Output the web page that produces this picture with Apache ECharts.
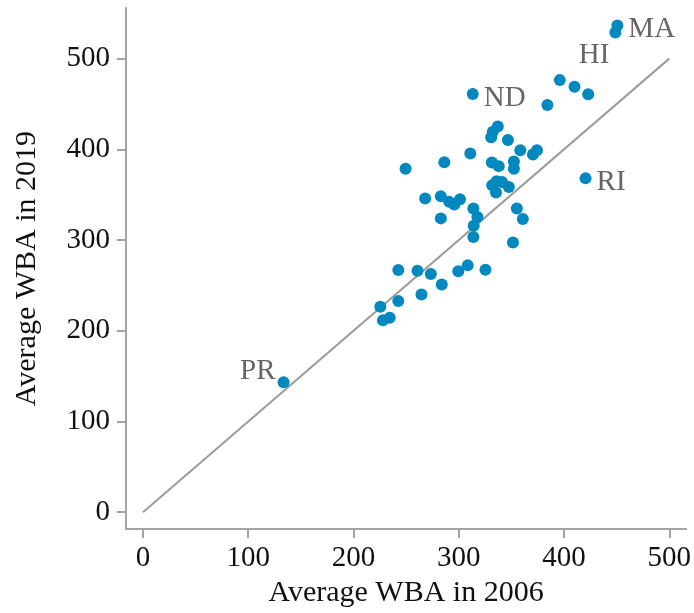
<!DOCTYPE html>
<html>
<head>
<meta charset="utf-8">
<title>Average WBA 2006 vs 2019</title>
<script src="https://cdn.jsdelivr.net/npm/echarts@6/dist/echarts.min.js"></script>
<style>
  html, body { margin: 0; padding: 0; background: #fff; }
  #chart { width: 694px; height: 613px; }
</style>
</head>
<body>
<div id="chart"></div>
<script>
// average weekly benefit amount by state, 2006 vs 2019
const wba2006 = [
  450.7, 448.8, 396, 410, 423, 384.2, 313.3, 337.1, 332.4, 330.8,
  346.7, 358.5, 370.5, 374.3, 311, 286.3, 249.5, 331.5, 338, 352.4,
  352.4, 420.5, 331.8, 336, 341.1, 347.6, 335.4, 268.1, 283, 291,
  295.8, 301.2, 313.9, 317.7, 314.2, 313.9, 283, 355.2, 360.9, 351.5,
  242.6, 260.8, 273.5, 299.6, 308.5, 325.4, 283.9, 264.6, 242.6, 225.5,
  228, 234.4, 133.6
];
const wba2019 = [
  536.4, 528.8, 476.3, 469, 460.6, 448.9, 461, 425.3, 419.4, 413.3,
  410.3, 399, 394.2, 399, 395.3, 385.9, 378.6, 385.5, 381.5, 386.5,
  378.6, 368, 360.3, 364.7, 364, 358.5, 352.3, 345.7, 348.3, 342.1,
  339.2, 345, 334.8, 325.3, 315.9, 303.4, 323.9, 334.8, 323.1, 297.3,
  267, 266.2, 262.6, 265.5, 272.1, 267.3, 250.9, 240, 232.7, 226.5,
  211.5, 214.4, 143.3
];
// only a few states get a label
const stateNames = [
  "MA", "HI", "", "", "", "", "ND", "", "", "",
  "", "", "", "", "", "", "", "", "", "",
  "", "RI", "", "", "", "", "", "", "", "",
  "", "", "", "", "", "", "", "", "", "",
  "", "", "", "", "", "", "", "", "", "",
  "", "", "PR"
];
const refLine = [0, 500];
const tickValues = [0, 100, 200, 300, 400, 500];

// where each label sits around its dot
const labelPlace = {
  MA: { position: "right", distance: 5, offset: [0, 4] },
  ND: { position: "right", distance: 5, offset: [0, 4] },
  RI: { position: "right", distance: 5, offset: [0, 4] },
  HI: { position: "left", distance: 0, offset: [0, 23] },
  PR: { position: "left", distance: 2, offset: [0, -11] }
};

const font = "'Liberation Serif', 'DejaVu Serif', serif";
const gray = "#a3a3a3";

let points = [];
for (let i = 0; i < wba2006.length; i++) {
  let p = { value: [wba2006[i], wba2019[i]], name: stateNames[i] };
  if (stateNames[i]) {
    p.label = Object.assign({ show: true }, labelPlace[stateNames[i]]);
  }
  points.push(p);
}

const chart = echarts.init(document.getElementById("chart"));

const axisCommon = {
  type: "value",
  nameLocation: "middle",
  nameTextStyle: { fontFamily: font, fontSize: 30, color: "#111" },
  splitLine: { show: false },
  axisLine: { show: true, onZero: false, lineStyle: { color: gray, width: 2 } },
  axisTick: { show: true, length: 9, customValues: tickValues, lineStyle: { color: gray, width: 2 } },
  axisLabel: { customValues: tickValues, fontFamily: font, fontSize: 29, color: "#111" }
};

const option = {
  animation: false,
  grid: { left: 126, right: 6, top: 8, bottom: 80, containLabel: false },
  xAxis: Object.assign({}, axisCommon, {
    name: "Average WBA in 2006",
    nameGap: 46,
    min: -16.1,
    max: 516.1,
    axisLabel: Object.assign({}, axisCommon.axisLabel, { margin: 15 })
  }),
  yAxis: Object.assign({}, axisCommon, {
    name: "Average WBA in 2019",
    nameGap: 84,
    min: -18.6,
    max: 555.8,
    axisLabel: Object.assign({}, axisCommon.axisLabel, { margin: 16 })
  }),
  series: [
    {
      type: "line",
      data: [[refLine[0], refLine[0]], [refLine[1], refLine[1]]],
      symbol: "none",
      silent: true,
      lineStyle: { color: "#9c9c9c", width: 2 },
      z: 1
    },
    {
      type: "scatter",
      data: points,
      symbolSize: 12,
      itemStyle: { color: "#0088bf", opacity: 1 },
      label: {
        show: false,
        formatter: "{b}",
        fontFamily: font,
        fontSize: 29,
        color: "#666666"
      },
      z: 2
    }
  ]
};

chart.setOption(option);
</script>
</body>
</html>
